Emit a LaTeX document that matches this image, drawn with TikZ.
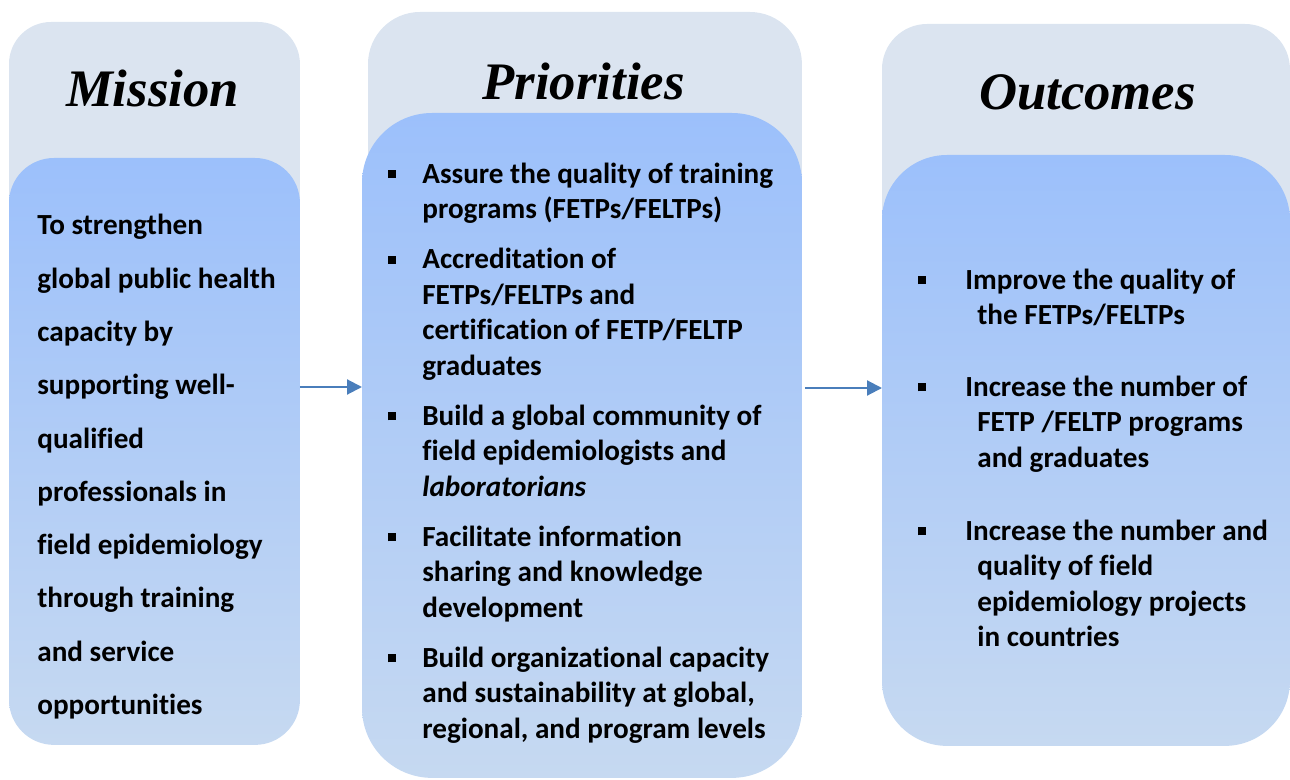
\documentclass[tikz,border=0pt]{standalone}
\usepackage{fontspec}
\setmainfont[Ligatures=NoCommon]{Carlito}
\newfontfamily\headfont{Liberation Serif}
\usetikzlibrary{arrows.meta}

\definecolor{panelgray}{RGB}{219,228,240}
\definecolor{bodytop}{RGB}{156,192,251}
\definecolor{bodybottom}{RGB}{198,217,241}
\definecolor{flowblue}{RGB}{74,126,187}

\newcommand{\sqbullet}{\rule[0.1cm]{0.16cm}{0.16cm}}
\newcommand{\prmark}{\makebox[0.68cm][l]{\sqbullet}}
\newcommand{\prind}{\hspace*{0.68cm}}
\newcommand{\ocmark}{\makebox[0.94cm][l]{\sqbullet}}
\newcommand{\ocind}{\hspace*{1.18cm}}

\begin{document}
\begin{tikzpicture}[x=0.02cm, y=-0.02cm,
        panel/.style={fill=panelgray, rounded corners=#1, anchor=north west, inner sep=0pt, outer sep=0pt},
        body/.style={top color=bodytop, bottom color=bodybottom, rounded corners=#1, anchor=north west, inner sep=0pt, outer sep=0pt},
        heading/.style={anchor=base, inner sep=0pt, font=\headfont\bfseries\itshape\fontsize{30}{36}\selectfont},
        item/.style={anchor=base west, inner sep=0pt, align=left, font=\bfseries\fontsize{16.6}{20.12}\selectfont},
        flow/.style={draw=flowblue, line width=1.2pt, -{Triangle[length=0.3cm, width=0.3cm]}}]
    \useasboundingbox (0,0) rectangle (1290,780);

    % light panels behind
    \node[panel=0.84cm, minimum width=5.82cm, minimum height=7cm] (missback) at (9,22) {};
    \node[panel=1.04cm, minimum width=8.68cm, minimum height=7cm] (prback) at (368,12) {};
    \node[panel=0.9cm, minimum width=8.16cm, minimum height=7cm] (ocback) at (882,24) {};

    % shaded bodies
    \node[body=0.9cm, minimum width=5.82cm, minimum height=11.74cm] (missbody) at (9,158) {};
    \node[body=1.4cm, minimum width=8.8cm, minimum height=13.3cm] (prbody) at (362,113) {};
    \node[body=1.3cm, minimum width=8.16cm, minimum height=11.82cm] (ocbody) at (882,155) {};

    % headings
    \node[heading] (misstitle) at (152.5,107) {Mission};
    \node[heading] (prtitle) at (583.5,100) {Priorities};
    \node[heading] (octitle) at (1087.5,110) {Outcomes};

    % mission text (placed at its last baseline)
    \node[item, font=\bfseries\fontsize{16.6}{30.33}\selectfont] (misstext) at (37,714.5)
        {To strengthen\\global public health\\capacity by\\supporting well-\\qualified\\professionals in\\field epidemiology\\through training\\and service\\opportunities};

    % priorities
    \node[item] (pr1) at (388,218.5) {\prmark Assure the quality of training\\\prind programs (FETPs/FELTPs)};
    \node[item] (pr2) at (388,375) {\prmark Accreditation of\\\prind FETPs/FELTPs and\\\prind certification of FETP/FELTP\\\prind graduates};
    \node[item] (pr3) at (388,496) {\prmark Build a global community of\\\prind field epidemiologists and\\\prind \textit{laboratorians}};
    \node[item] (pr4) at (388,617) {\prmark Facilitate information\\\prind sharing and knowledge\\\prind development};
    \node[item] (pr5) at (388,738) {\prmark Build organizational capacity\\\prind and sustainability at global,\\\prind regional, and program levels};

    % outcomes
    \node[item] (oc1) at (918,324.5) {\ocmark Improve the quality of\\\ocind the FETPs/FELTPs};
    \node[item] (oc2) at (918,467) {\ocmark Increase the number of\\\ocind FETP /FELTP programs\\\ocind and graduates};
    \node[item] (oc3) at (918,646.5) {\ocmark Increase the number and\\\ocind quality of field\\\ocind epidemiology projects\\\ocind in countries};

    % arrows
    \coordinate (row1) at (0,387);
    \coordinate (row2) at (0,388);
    \draw[flow] (missbody.east |- row1) -- (prbody.west |- row1);
    \draw[flow] ([xshift=0.06cm]prbody.east |- row2) -- (ocbody.west |- row2);
\end{tikzpicture}
\end{document}
